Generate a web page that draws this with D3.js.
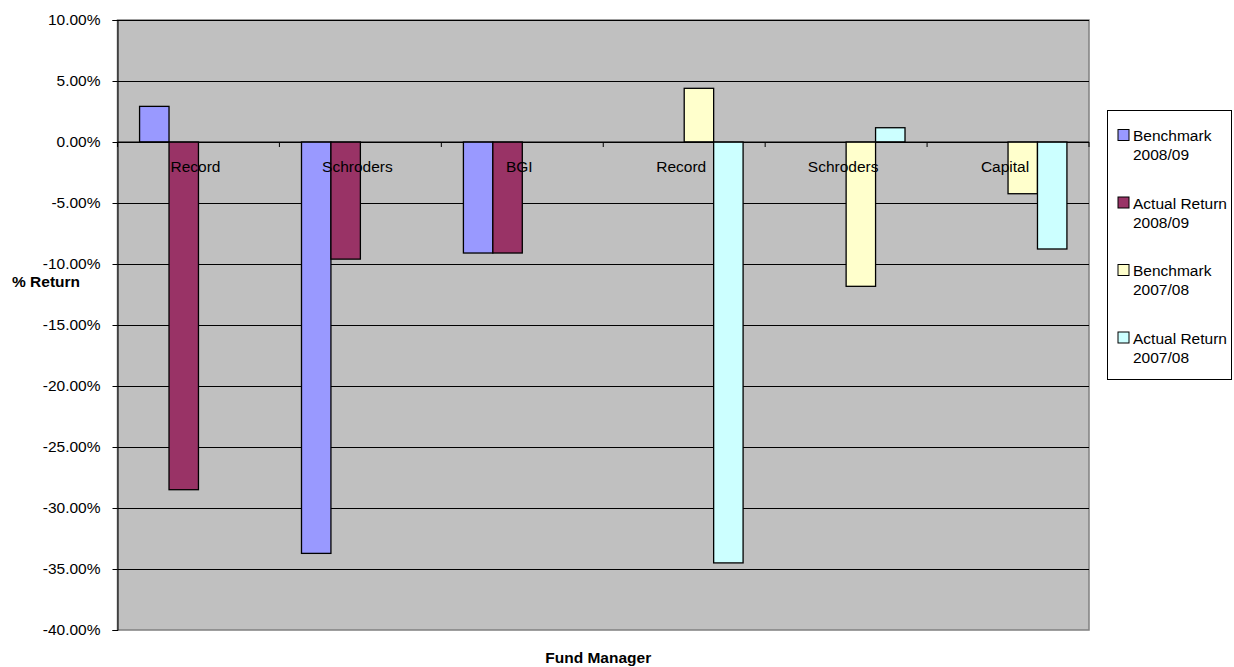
<!DOCTYPE html>
<html>
<head>
<meta charset="utf-8">
<script src="https://cdn.jsdelivr.net/npm/d3@7"></script>
<style>
  html, body { margin: 0; padding: 0; background: #fff; }
  svg { display: block; font-family: "Liberation Sans", Arial, sans-serif; }
</style>
</head>
<body>
<svg id="chart" width="1234" height="667"></svg>
<script>
// ---- data ----
const categories = ["Record", "Schroders", "BGI", "Record", "Schroders", "Capital"];
const seriesNames = ["Benchmark 2008/09", "Actual Return 2008/09", "Benchmark 2007/08", "Actual Return 2007/08"];
const benchmark0809 = [2.92, -33.72, -9.1, null, null, null];
const actual0809 = [-28.5, -9.6, -9.1, null, null, null];
const benchmark0708 = [null, null, null, 4.4, -11.83, -4.24];
const actual0708 = [null, null, null, -34.5, 1.17, -8.77];
const yTicks = [10, 5, 0, -5, -10, -15, -20, -25, -30, -35, -40];
const seriesColors = ["#9999FF", "#993366", "#FFFFCC", "#CCFFFF"];

const seriesValues = [benchmark0809, actual0809, benchmark0708, actual0708];

const svg = d3.select("#chart");
const pL = 117.5, pR = 1089, pT = 20, pB = 630;
const fs = "15.5px";

const y = d3.scaleLinear().domain([-40, 10]).range([pB, pT]);
const x = d3.scaleBand().domain(d3.range(categories.length)).range([pL, pR]).padding(0);
const xs = d3.scaleBand().domain(d3.range(seriesValues.length)).range([0, x.bandwidth()])
  .paddingInner(0).paddingOuter(0.75);

// plot background
svg.append("rect").attr("x", pL).attr("y", pT).attr("width", pR - pL).attr("height", pB - pT)
  .attr("fill", "#C0C0C0").attr("stroke", "#808080").attr("stroke-width", 1.5);

// gridlines
svg.append("g").selectAll("line").data(yTicks.filter(d => d !== -40)).join("line")
  .attr("x1", pL).attr("x2", pR)
  .attr("y1", d => Math.round(y(d)) + 0.5).attr("y2", d => Math.round(y(d)) + 0.5)
  .attr("stroke", "#000").attr("stroke-width", 1);

// y axis
const yAxis = d3.axisLeft(y).tickValues(yTicks).tickSize(5).tickPadding(12)
  .tickFormat(d => d.toFixed(2) + "%");
const gy = svg.append("g").attr("transform", `translate(${pL},0)`).call(yAxis);
gy.select(".domain").attr("stroke", "#000");
gy.selectAll(".tick line").attr("stroke", "#000");
gy.selectAll(".tick text").attr("font-size", fs).attr("font-family", "Liberation Sans, Arial, sans-serif").attr("fill", "#000");

// bars
const bars = [];
seriesValues.forEach((arr, s) => arr.forEach((v, i) => { if (v !== null) bars.push({ s, i, v }); }));
svg.append("g").selectAll("rect").data(bars).join("rect")
  .attr("x", d => x(d.i) + xs(d.s))
  .attr("width", xs.bandwidth())
  .attr("y", d => y(Math.max(0, d.v)))
  .attr("height", d => Math.abs(y(d.v) - y(0)))
  .attr("fill", d => seriesColors[d.s])
  .attr("stroke", "#000").attr("stroke-width", 1.3);

// x axis at zero
const xAxis = d3.axisBottom(x).tickSize(0).tickFormat(i => categories[i]);
const gx = svg.append("g").attr("transform", `translate(0,${y(0)})`).call(xAxis);
gx.select(".domain").attr("stroke", "#000").attr("d", `M${pL},0H${pR}`);
gx.selectAll(".tick text").attr("font-size", fs).attr("font-family", "Liberation Sans, Arial, sans-serif")
  .attr("fill", "#000").attr("dy", null).attr("y", 30).attr("x", -3);
// category boundary ticks
svg.append("g").selectAll("line").data(d3.range(categories.length + 1)).join("line")
  .attr("x1", i => i < categories.length ? x(i) : pR)
  .attr("x2", i => i < categories.length ? x(i) : pR)
  .attr("y1", y(0)).attr("y2", y(0) + 5).attr("stroke", "#000");

// axis titles
svg.append("text").attr("x", 12).attr("y", 287).attr("font-size", fs).attr("font-weight", "bold").text("% Return");
svg.append("text").attr("x", (pL + pR) / 2 - 5).attr("y", 663).attr("text-anchor", "middle")
  .attr("font-size", fs).attr("font-weight", "bold").text("Fund Manager");

// legend
const lg = svg.append("g");
lg.append("rect").attr("x", 1107.5).attr("y", 110.5).attr("width", 124).attr("height", 269)
  .attr("fill", "#fff").attr("stroke", "#000").attr("stroke-width", 1);
seriesNames.forEach((name, k) => {
  const yy = 129.5 + k * 67.5;
  lg.append("rect").attr("x", 1118).attr("y", yy).attr("width", 11).attr("height", 11)
    .attr("fill", seriesColors[k]).attr("stroke", "#000").attr("stroke-width", 1);
  const parts = name.match(/^(.*) (\S+)$/);
  const t = lg.append("text").attr("font-size", fs).attr("fill", "#000");
  t.append("tspan").attr("x", 1133).attr("y", yy + 11.5).text(parts[1]);
  t.append("tspan").attr("x", 1133).attr("y", yy + 30.5).text(parts[2]);
});
</script>
</body>
</html>
